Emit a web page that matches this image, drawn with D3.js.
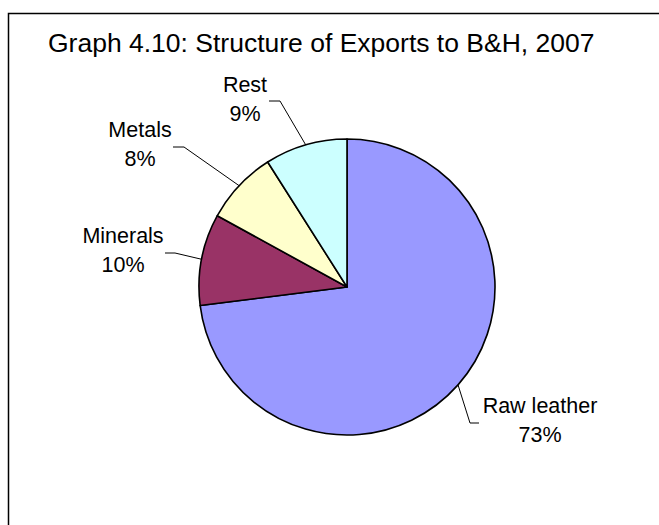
<!DOCTYPE html>
<html>
<head>
<meta charset="utf-8">
<script src="https://cdn.jsdelivr.net/npm/d3@7"></script>
<style>
  html, body { margin: 0; padding: 0; background: #fff; }
  svg { display: block; font-family: Arial, "Liberation Sans", sans-serif; }
</style>
</head>
<body>
<svg id="chart" width="659" height="525"></svg>
<script>
// Export structure, share of total (%)
const categories = ["Raw leather", "Minerals", "Metals", "Rest"];
const shares = [73, 10, 8, 9];
const colors = ["#9999FF", "#993366", "#FFFFCC", "#CCFFFF"];
const title = "Graph 4.10: Structure of Exports to B&H, 2007";

// Label placement relative to the pie centre: text centre / first baseline,
// elbow of the leader line, and end of its short horizontal run.
const labelLayout = [
  { tx: 193, ty: 126, ex: 123, ey: 136, hx: 132 },
  { tx: -224, ty: -44, ex: -172, ey: -34, hx: -182 },
  { tx: -207, ty: -150, ex: -163, ey: -140, hx: -174 },
  { tx: -102, ty: -195, ex: -67, ey: -186, hx: -78 }
];

const W = 659, H = 525;
const cx = 347, cy = 287, R = 148;

const svg = d3.select("#chart");

// frame
svg.append("rect")
  .attr("x", 8.5).attr("y", 13.5)
  .attr("width", 700).attr("height", 600)
  .attr("fill", "#fff")
  .attr("stroke", "#000").attr("stroke-width", 1.5);

svg.append("text")
  .attr("x", 48).attr("y", 52)
  .attr("font-size", 26.5)
  .attr("fill", "#000")
  .text(title);

const data = categories.map((c, i) => ({ name: c, value: shares[i], color: colors[i], layout: labelLayout[i] }));

const pie = d3.pie().value(d => d.value).sort(null);
const arcs = pie(data);
const arc = d3.arc().innerRadius(0).outerRadius(R);

const g = svg.append("g").attr("transform", `translate(${cx},${cy})`);

g.selectAll("path.slice")
  .data(arcs)
  .join("path")
  .attr("class", "slice")
  .attr("d", arc)
  .attr("fill", d => d.data.color)
  .attr("stroke", "#000")
  .attr("stroke-width", 1.6)
  .attr("stroke-linejoin", "round");

// leader lines from the slice edge at its mid-angle
g.selectAll("polyline.leader")
  .data(arcs)
  .join("polyline")
  .attr("class", "leader")
  .attr("fill", "none")
  .attr("stroke", "#000")
  .attr("stroke-width", 1)
  .attr("points", d => {
    const a = (d.startAngle + d.endAngle) / 2;
    const px = R * Math.sin(a), py = -R * Math.cos(a);
    const L = d.data.layout;
    return [[px, py], [L.ex, L.ey], [L.hx, L.ey]].map(p => p.join(",")).join(" ");
  });

const labels = g.selectAll("text.label")
  .data(arcs)
  .join("text")
  .attr("class", "label")
  .attr("text-anchor", "middle")
  .attr("font-size", 21.5)
  .attr("fill", "#000");

labels.append("tspan")
  .attr("x", d => d.data.layout.tx)
  .attr("y", d => d.data.layout.ty)
  .text(d => d.data.name);

labels.append("tspan")
  .attr("x", d => d.data.layout.tx)
  .attr("y", d => d.data.layout.ty + 29)
  .text(d => d.data.value + "%");
</script>
</body>
</html>
